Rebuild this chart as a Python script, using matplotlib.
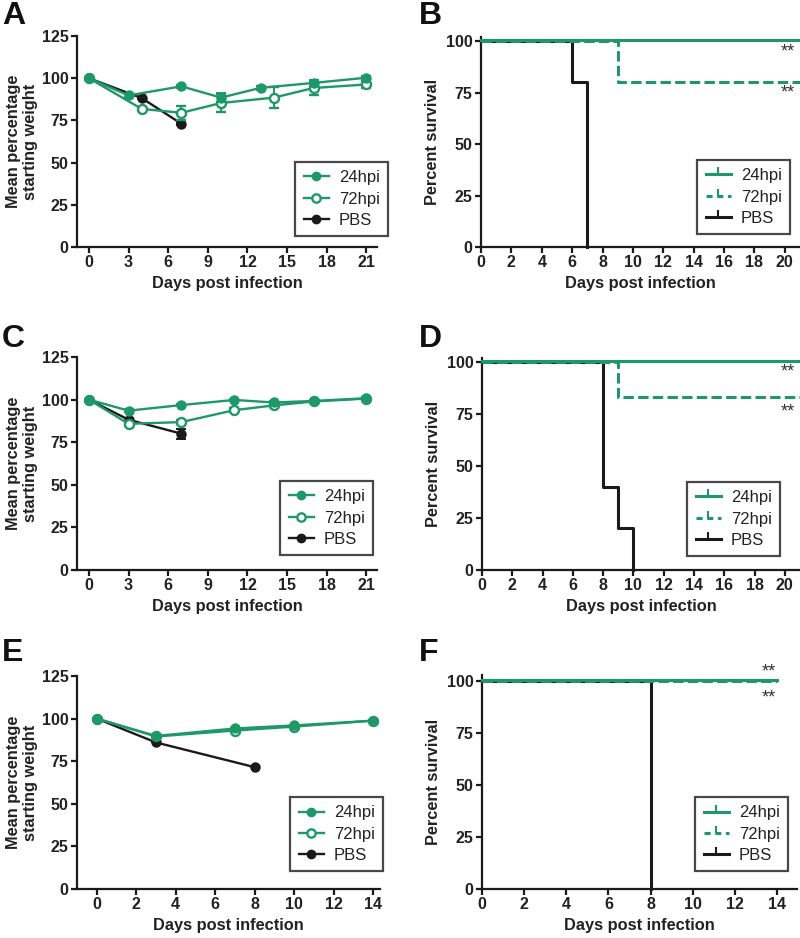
import matplotlib
matplotlib.use("Agg")
import matplotlib.pyplot as plt
import matplotlib.transforms as mtransforms
from matplotlib.lines import Line2D

plt.rcParams['font.family'] = ['Liberation Sans', 'DejaVu Sans']

GREEN = '#1e9868'
BLACK = '#1a1a1a'

# ---------------- data ----------------
# Panel A (weight)
A_d24 = [0, 3, 7, 10, 13, 17, 21]
A_w24 = [100, 89.8, 95.2, 88.5, 94.3, 97.2, 100.3]
A_e24 = [0, 0.8, 1.0, 2.5, 1.0, 1.8, 1.0]
A_d72 = [0, 4, 7, 10, 14, 17, 21]
A_w72 = [100, 81.8, 79.5, 85.3, 88.5, 94.2, 96.3]
A_e72 = [0, 1.0, 4.0, 5.5, 6.0, 4.0, 2.0]
A_dP = [0, 4, 7]
A_wP = [100, 88.2, 73.0]
A_eP = [0, 0.8, 0.5]

# Panel C (weight)
C_d24 = [0, 3, 7, 11, 14, 17, 21]
C_w24 = [100, 93.5, 96.8, 99.8, 98.3, 99.2, 100.8]
C_e24 = [0, 0.8, 0.8, 0.8, 0.8, 0.8, 0.8]
C_d72 = [0, 3, 7, 11, 14, 17, 21]
C_w72 = [100, 85.8, 86.8, 93.8, 96.6, 98.9, 100.6]
C_e72 = [0, 1.0, 1.0, 1.0, 1.0, 1.0, 1.0]
C_dP = [0, 3, 7]
C_wP = [100, 88.2, 80.0]
C_eP = [0, 0.8, 3.0]

# Panel E (weight)
E_d24 = [0, 3, 7, 10, 14]
E_w24 = [100, 89.8, 94.2, 96.0, 98.8]
E_d72 = [0, 3, 7, 10, 14]
E_w72 = [100, 89.5, 93.0, 95.3, 98.8]
E_dP = [0, 3, 8]
E_wP = [100, 86.0, 71.5]

# Survival B
B_t24 = [0, 21]; B_s24 = [100, 100]
B_t72 = [0, 9, 21]; B_s72 = [100, 80, 80]
B_tP = [0, 6, 7]; B_sP = [100, 80, 0]
# Survival D
D_t24 = [0, 21]; D_s24 = [100, 100]
D_t72 = [0, 9, 21]; D_s72 = [100, 83.3, 83.3]
D_tP = [0, 8, 9, 10]; D_sP = [100, 40, 20, 0]
# Survival F
F_t24 = [0, 14]; F_s24 = [100, 100]
F_t72 = [0, 14]; F_s72 = [100, 100]
F_tP = [0, 8]; F_sP = [100, 0]

labels = ['24hpi', '72hpi', 'PBS']

W, H = 800, 938
fig = plt.figure(figsize=(W / 100, H / 100), dpi=100)

TXT = '#222222'


def rect(l, r, t, b):
    return [l / W, 1 - b / H, (r - l) / W, (b - t) / H]


def style(ax):
    for s in ['top', 'right']:
        ax.spines[s].set_visible(False)
    for s in ['left', 'bottom']:
        ax.spines[s].set_linewidth(1.6)
        ax.spines[s].set_color(BLACK)
    ax.tick_params(direction='out', length=4, width=1.6, color=BLACK,
                   labelsize=11.5, pad=2)
    for lab in ax.get_xticklabels() + ax.get_yticklabels():
        lab.set_fontweight('bold')
        lab.set_color(TXT)
    ax.set_xlabel('Days post infection', fontsize=11.8, fontweight='bold',
                  color=TXT, labelpad=4)


def legend(ax, handles, x, y):
    lg = ax.legend(handles, labels, loc='upper right',
                   bbox_to_anchor=(x / W, 1 - y / H),
                   bbox_transform=fig.transFigure, frameon=True,
                   fancybox=False, edgecolor=BLACK, fontsize=12,
                   handlelength=1.5, handletextpad=0.6, borderpad=0.5,
                   labelspacing=0.38, borderaxespad=0)
    lg.get_frame().set_linewidth(1.6)
    for t in lg.get_texts():
        t.set_color(TXT)


def weight_panel(rc, d24, w24, e24, d72, w72, e72, dP, wP, eP, xlim, xticks, legpos):
    ax = fig.add_axes(rc)
    kw = dict(lw=1.7, ms=6.5, capsize=3.5, elinewidth=1.4, capthick=1.4, clip_on=False)
    ax.errorbar(dP, wP, yerr=eP, color=BLACK, marker='o', mfc=BLACK, mec=BLACK, zorder=3, **kw)
    ax.errorbar(d72, w72, yerr=e72, color=GREEN, marker='o', mfc='white', mec=GREEN, mew=1.7,
                zorder=4, **kw)
    ax.errorbar(d24, w24, yerr=e24, color=GREEN, marker='o', mfc=GREEN, mec=GREEN, zorder=5, **kw)
    ax.set_xlim(*xlim)
    ax.set_ylim(0, 125)
    ax.set_xticks(xticks)
    ax.set_yticks([0, 25, 50, 75, 100, 125])
    ax.set_ylabel('Mean percentage\nstarting weight', fontsize=11.8, fontweight='bold',
                  color=TXT, labelpad=3, linespacing=1.15)
    style(ax)
    h = [Line2D([], [], color=GREEN, marker='o', mfc=GREEN, mec=GREEN, lw=1.7, ms=6),
         Line2D([], [], color=GREEN, marker='o', mfc='white', mec=GREEN, mew=1.7, lw=1.7, ms=6),
         Line2D([], [], color=BLACK, marker='o', mfc=BLACK, mec=BLACK, lw=1.7, ms=6)]
    legend(ax, h, *legpos)
    return ax


def surv_panel(rc, t24, s24, t72, s72, tP, sP, xlim, ylim, xticks, legpos, stars):
    ax = fig.add_axes(rc)
    up = mtransforms.offset_copy(ax.transData, fig=fig, x=0, y=1.5, units='dots')
    ax.step(tP, sP, where='post', color=BLACK, lw=2.2, clip_on=False, zorder=3)
    ax.step(t72, s72, where='post', color=GREEN, lw=2.2, ls=(0, (3.4, 1.4)),
            clip_on=False, zorder=4)
    ax.step(t24, s24, where='post', color=GREEN, lw=2.2, clip_on=False, zorder=5,
            transform=up)
    ax.set_xlim(*xlim)
    ax.set_ylim(*ylim)
    ax.set_xticks(xticks)
    ax.set_yticks([0, 25, 50, 75, 100])
    ax.set_ylabel('Percent survival', fontsize=11.8, fontweight='bold', color=TXT,
                  labelpad=4)
    style(ax)
    for (sx, sy) in stars:
        ax.text(sx, sy, '**', ha='center', va='center', fontsize=13, color='#333333')
    h = [Line2D([], [], color=GREEN, lw=2.2, marker=2, ms=5, mew=1.5),
         Line2D([], [], color=GREEN, lw=2.2, ls=(0, (2.0, 1.5)), marker=2, ms=5, mew=1.5),
         Line2D([], [], color=BLACK, lw=2.2, marker=2, ms=5, mew=1.5)]
    legend(ax, h, *legpos)
    return ax


weight_panel(rect(77, 377, 36, 247), A_d24, A_w24, A_e24, A_d72, A_w72, A_e72,
             A_dP, A_wP, A_eP, (-0.9, 21.8), [0, 3, 6, 9, 12, 15, 18, 21], (388, 162))
surv_panel(rect(481, 800, 37, 247), B_t24, B_s24, B_t72, B_s72, B_tP, B_sP,
           (0, 21), (0, 102), list(range(0, 21, 2)), (790, 160),
           [(20.2, 94.5), (20.2, 75)])

weight_panel(rect(77, 377, 357, 570), C_d24, C_w24, C_e24, C_d72, C_w72, C_e72,
             C_dP, C_wP, C_eP, (-0.9, 21.8), [0, 3, 6, 9, 12, 15, 18, 21], (373, 481))
surv_panel(rect(482, 800, 358, 570), D_t24, D_s24, D_t72, D_s72, D_tP, D_sP,
           (0, 21), (0, 102), list(range(0, 21, 2)), (780, 482),
           [(20.2, 95.5), (20.2, 76)])

weight_panel(rect(77, 380, 676, 889), E_d24, E_w24, [0] * 5, E_d72, E_w72, [0] * 5,
             E_dP, E_wP, [0] * 3, (-1.0, 14.35), [0, 2, 4, 6, 8, 10, 12, 14], (383, 797))
surv_panel(rect(482, 797, 675, 889), F_t24, F_s24, F_t72, F_s72, F_tP, F_sP,
           (0, 14.95), (0, 102.9), list(range(0, 15, 2)), (788, 797),
           [(13.6, 104.5), (13.6, 92)])

for letter, x, y in [('A', 2, 1), ('B', 419, 1), ('C', 2, 324), ('D', 419, 324),
                     ('E', 2, 638), ('F', 419, 638)]:
    fig.text(x / W, 1 - y / H, letter, fontsize=23, fontweight='bold', va='top', ha='left',
             color='#111111')

fig.savefig('out.png', dpi=100)
